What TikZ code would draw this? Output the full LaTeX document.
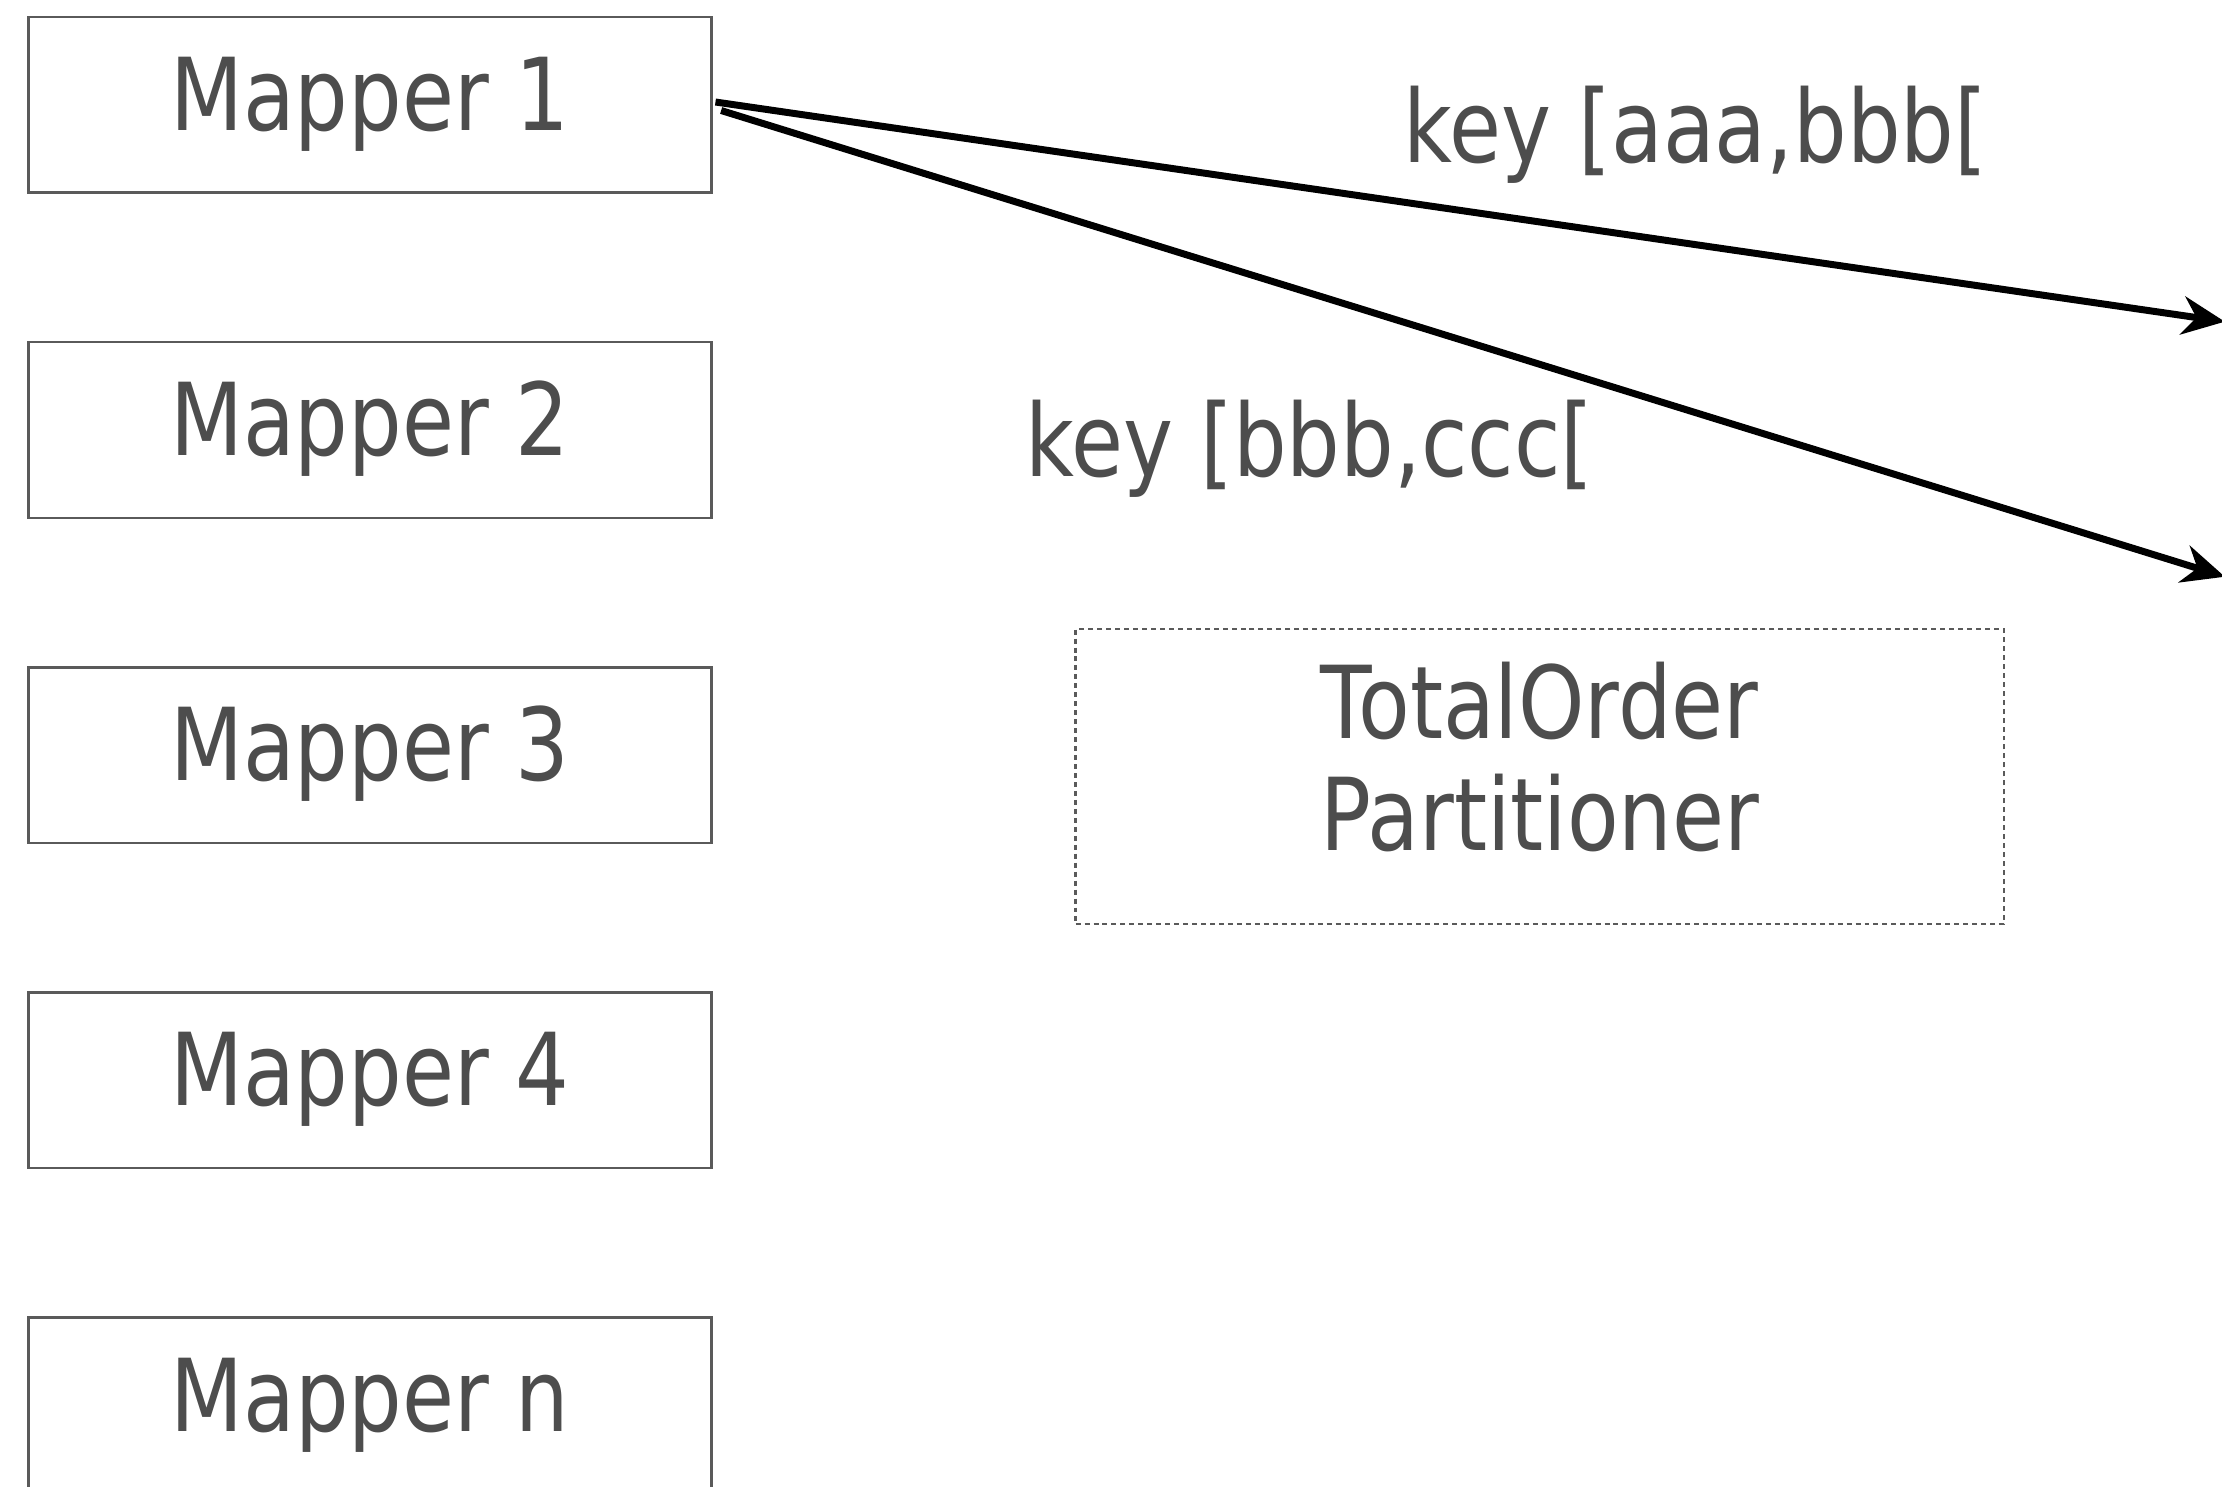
\documentclass[tikz,border=0pt]{standalone}
\usepackage{fontspec}
\setmainfont{DejaVu Sans}[FakeStretch=0.84]
\usepackage{xcolor}
\usetikzlibrary{arrows.meta,positioning}

\definecolor{txtgray}{HTML}{4D4D4D}
\definecolor{boxgray}{HTML}{5A5A5A}

\begin{document}
\begin{tikzpicture}[
      font=\fontsize{20.2}{22.5}\selectfont,
      mapper/.style={draw=boxgray, line width=0.5pt, minimum width=4.82cm, minimum height=1.24cm, inner sep=0pt, text=txtgray, text height=0.52cm, text depth=0.16cm},
      part/.style={draw=boxgray, line width=0.5pt, dash pattern=on 1pt off 0.8pt, minimum width=6.55cm, minimum height=2.08cm, inner sep=0pt},
      parttxt/.style={align=center, inner sep=0pt, text=txtgray},
      keylbl/.style={anchor=base, inner sep=0pt, text=txtgray},
      arr/.style={-{Stealth[length=3mm, width=2.7mm]}, line width=1.4pt},
      node distance=1.037cm,
    ]
    \useasboundingbox (0,0) rectangle (15.68,-10.49);

    % Column of mappers
    \node (m1) [mapper] at (2.61,-0.74) {Mapper 1};
    \node (m2) [mapper, below=of m1] {Mapper 2};
    \node (m3) [mapper, below=of m2] {Mapper 3};
    \node (m4) [mapper, below=of m3] {Mapper 4};
    \node (mn) [mapper, below=of m4] {Mapper n};

    % Partitioner and key ranges
    \node (tot) [part] at (10.865,-5.48) {};
    \node (totlbl) [parttxt, yshift=0.135cm] at (tot.center) {TotalOrder\\Partitioner};
    \node (k1) [keylbl] at (11.965,-1.15) {key [aaa,bbb[};
    \node (k2) [keylbl] at (9.24,-3.36) {key [bbb,ccc[};

    % Outgoing ranges of Mapper 1
    \coordinate (r1) at (15.70,-2.27);
    \coordinate (r2) at (15.70,-4.07);
    \draw [arr] ([xshift=0.02cm, yshift=0.02cm]m1.east) -- (r1);
    \draw [arr] ([xshift=0.06cm, yshift=-0.04cm]m1.east) -- (r2);
  \end{tikzpicture}
\end{document}
